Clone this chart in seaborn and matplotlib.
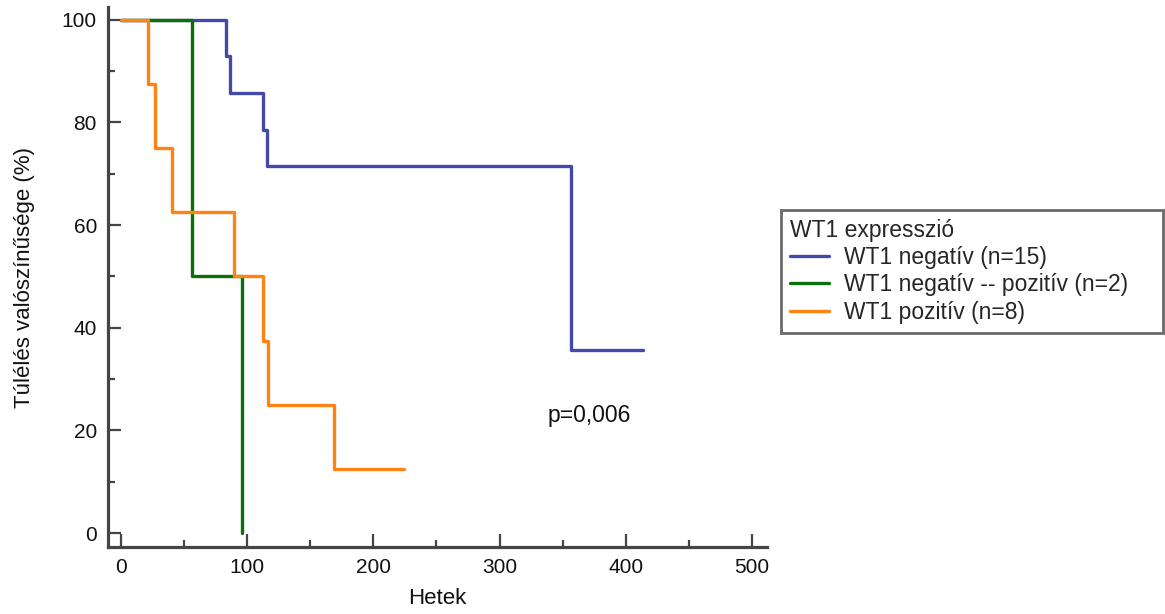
import matplotlib
matplotlib.use("Agg")
import matplotlib.pyplot as plt
import seaborn as sns
import pandas as pd
from matplotlib.ticker import MultipleLocator

# ---- data (Kaplan-Meier steps) ----
groups = ["WT1 negatív (n=15)", "WT1 negatív -- pozitív (n=2)", "WT1 pozitív (n=8)"]
neg_time = [0, 83, 86.5, 112.7, 116, 356.6, 413.6]
neg_surv = [100, 92.86, 85.71, 78.57, 71.43, 35.71, 35.71]
mix_time = [0, 56.5, 95.6]
mix_surv = [100, 50, 0]
pos_time = [0, 21.7, 27, 40.2, 89.5, 112.8, 116.2, 169, 224]
pos_surv = [100, 87.5, 75, 62.5, 50, 37.5, 25, 12.5, 12.5]
colors = ["#4249A8", "#0B700B", "#FF8214"]
p_text = "p=0,006"
x_label = "Hetek"
y_label = "Túlélés valószínűsége (%)"
legend_title = "WT1 expresszió"

frames = []
for g, t, s in zip(groups, [neg_time, mix_time, pos_time], [neg_surv, mix_surv, pos_surv]):
    frames.append(pd.DataFrame({"time": t, "surv": s, "group": g}))
df = pd.concat(frames, ignore_index=True)

sns.set_style("ticks")
plt.rcParams["font.family"] = ["Liberation Sans", "DejaVu Sans"]

W, H = 1165, 614
fig = plt.figure(figsize=(W / 100, H / 100), dpi=100)
ax = fig.add_axes([108 / W, 1 - 547 / H, (767 - 108) / W, (547 - 7) / H])

sns.lineplot(data=df, x="time", y="surv", hue="group", hue_order=groups,
             palette=dict(zip(groups, colors)), drawstyle="steps-post",
             estimator=None, sort=False, linewidth=2.4, ax=ax, legend=True)

ax.set_xlim(-10.3, 512)
ax.set_ylim(-2.7, 102.5)
ax.xaxis.set_major_locator(MultipleLocator(100))
ax.xaxis.set_minor_locator(MultipleLocator(50))
ax.yaxis.set_major_locator(MultipleLocator(20))
ax.yaxis.set_minor_locator(MultipleLocator(10))

spine_col = "#454545"
for side in ["top", "right"]:
    ax.spines[side].set_visible(False)
for side in ["left", "bottom"]:
    ax.spines[side].set_color(spine_col)
    ax.spines[side].set_linewidth(2.3)
ax.tick_params(which="major", direction="in", length=9.5, width=1.6, color=spine_col,
               labelsize=15, pad=8, labelcolor="#111111")
ax.tick_params(which="minor", direction="in", length=4.7, width=1.6, color=spine_col)

ax.set_xlabel(x_label, fontsize=16, labelpad=8, color="#111111")
ax.set_ylabel(y_label, fontsize=16, labelpad=19, color="#111111")

ax.text(338, 23, p_text, fontsize=16.5, ha="left", va="center", color="#111111")

handles, labels = ax.get_legend_handles_labels()
ax.get_legend().remove()
leg = fig.legend(handles, labels, title=legend_title, loc="upper left",
                 bbox_to_anchor=(781 / W, 1 - 330 / H, 382 / W, 120 / H), mode="expand",
                 fontsize=16.5, title_fontsize=16.5,
                 frameon=True, fancybox=False, handlelength=1.7, handletextpad=0.65,
                 labelspacing=0.18, borderpad=0.4, borderaxespad=0)
leg._legend_box.align = "left"
leg.get_frame().set_edgecolor(spine_col)
leg.get_frame().set_linewidth(2)
for line in leg.get_lines():
    line.set_linewidth(2.4)

fig.savefig("out.png", dpi=100)
